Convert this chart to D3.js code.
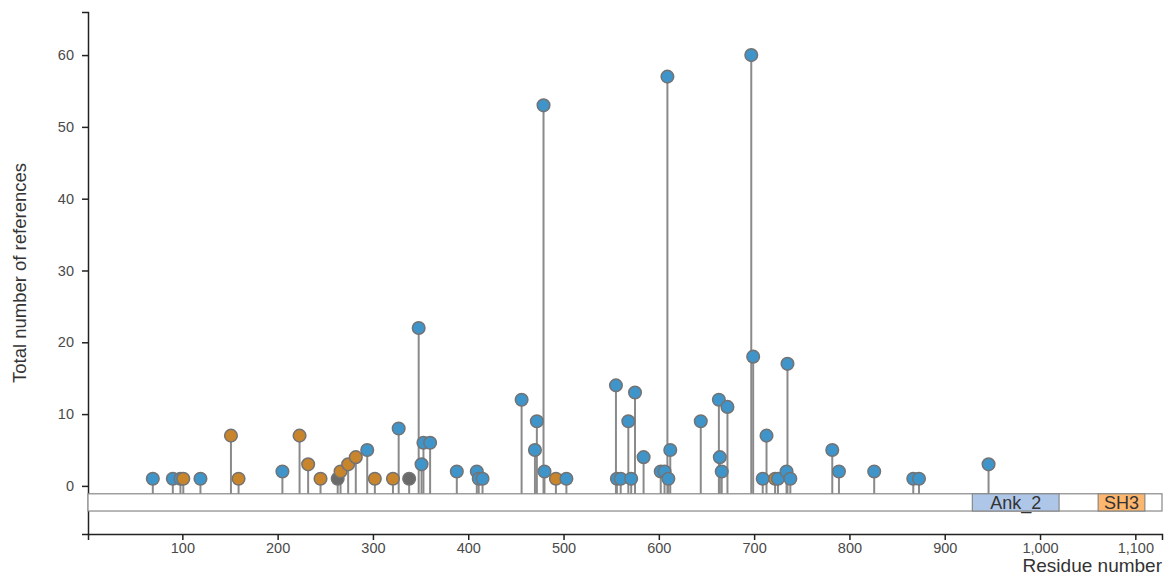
<!DOCTYPE html>
<html>
<head>
<meta charset="utf-8">
<script src="https://cdn.jsdelivr.net/npm/d3@7"></script>
<style>
  body { margin: 0; background: #fff; }
  svg { font-family: "Liberation Sans", Arial, sans-serif; }
  .tick text { fill: #4a4a4a; font-size: 14.5px; }
  .domain-label { font-size: 18px; fill: #333; }
</style>
</head>
<body>
<svg width="1168" height="577"></svg>
<script>
// lollipops: residue position, total references, mutation class
const positions = [
  69, 90, 98, 101, 119, 151, 159, 205, 223, 232, 245, 263, 266, 274, 282,
  294, 302, 321, 327, 338, 348, 351, 353, 360, 388, 409, 411, 415,
  456, 470, 472, 479, 480, 492, 503, 555, 556, 560, 568, 571, 575, 584,
  602, 606, 609, 610, 612, 644, 663, 664, 666, 672, 697, 699, 709, 713,
  722, 725, 734, 735, 738, 782, 789, 826, 867, 873, 946
];
const counts = [
  1, 1, 1, 1, 1, 7, 1, 2, 7, 3, 1, 1, 2, 3, 4,
  5, 1, 1, 8, 1, 22, 3, 6, 6, 2, 2, 1, 1,
  12, 5, 9, 53, 2, 1, 1, 14, 1, 1, 9, 1, 13, 4,
  2, 2, 57, 1, 5, 9, 12, 4, 2, 11, 60, 18, 1, 7,
  1, 1, 2, 17, 1, 5, 2, 2, 1, 1, 3
];
const classes = [
  'm', 'm', 'm', 't', 'm', 't', 't', 'm', 't', 't', 't', 'o', 't', 't', 't',
  'm', 't', 't', 'm', 'o', 'm', 'm', 'm', 'm', 'm', 'm', 'm', 'm',
  'm', 'm', 'm', 'm', 'm', 't', 'm', 'm', 'm', 'm', 'm', 'm', 'm', 'm',
  'm', 'm', 'm', 'm', 'm', 'm', 'm', 'm', 'm', 'm', 'm', 'm', 'm', 'm',
  't', 'm', 'm', 'm', 'm', 'm', 'm', 'm', 'm', 'm', 'm'
];
const classColors = { m: '#3f94c9', t: '#c8852c', o: '#6a6a6a' };

// protein domains
const proteinLength = 1128;
const domainNames = ['Ank_2', 'SH3'];
const domainStart = [929, 1061];
const domainEnd = [1020, 1110];
const domainColors = ['#aec7e8', '#fdb66e'];

const yTicks = [0, 10, 20, 30, 40, 50, 60];
const xTicks = [100, 200, 300, 400, 500, 600, 700, 800, 900, 1000, 1100];

const svg = d3.select('svg');

const x = d3.scaleLinear().domain([1, proteinLength]).range([88, 1162]);
const y = d3.scaleLinear().domain([-6.7, 66]).range([534, 12]);

const bandTop = y(-1.1), bandBottom = y(-3.5);

// y axis
svg.append('g')
  .attr('transform', `translate(${x(1)},0)`)
  .call(d3.axisLeft(y).tickValues(yTicks).tickSize(6).tickPadding(8))
  .call(g => g.select('.domain').attr('stroke', '#222').attr('stroke-width', 1.5))
  .call(g => g.selectAll('.tick line').attr('stroke', '#222').attr('stroke-width', 1.5));

// x axis
svg.append('g')
  .attr('transform', `translate(0,${y(-6.7)})`)
  .call(d3.axisBottom(x).tickValues(xTicks).tickFormat(d3.format(',')).tickSize(6).tickPadding(3))
  .call(g => g.select('.domain').attr('stroke', '#222').attr('stroke-width', 1.5))
  .call(g => g.selectAll('.tick line').attr('stroke', '#222').attr('stroke-width', 1.5));

// axis titles
svg.append('text')
  .attr('transform', `translate(26,${(y(66) + y(-6.7)) / 2}) rotate(-90)`)
  .attr('text-anchor', 'middle')
  .attr('font-size', 18.5)
  .attr('fill', '#333')
  .text('Total number of references');

svg.append('text')
  .attr('x', 1162)
  .attr('y', 572)
  .attr('text-anchor', 'end')
  .attr('font-size', 19)
  .attr('fill', '#333')
  .text('Residue number');

// protein backbone
svg.append('rect')
  .attr('x', x(1))
  .attr('y', bandTop)
  .attr('width', x(proteinLength) - x(1))
  .attr('height', bandBottom - bandTop)
  .attr('fill', '#fff')
  .attr('stroke', '#888')
  .attr('stroke-width', 1.2);

const domains = domainNames.map((name, i) => ({
  name, start: domainStart[i], end: domainEnd[i], color: domainColors[i]
}));

svg.selectAll('.pdomain')
  .data(domains)
  .join('rect')
  .attr('class', 'pdomain')
  .attr('x', d => x(d.start))
  .attr('y', bandTop)
  .attr('width', d => x(d.end) - x(d.start))
  .attr('height', bandBottom - bandTop)
  .attr('fill', d => d.color)
  .attr('stroke', '#888')
  .attr('stroke-width', 1.2);

svg.selectAll('.domain-label')
  .data(domains)
  .join('text')
  .attr('class', 'domain-label')
  .attr('x', d => (x(d.start) + x(d.end)) / 2)
  .attr('y', (bandTop + bandBottom) / 2)
  .attr('dy', '0.36em')
  .attr('text-anchor', 'middle')
  .text(d => d.name);

// lollipops
const muts = positions.map((p, i) => ({ pos: p, count: counts[i], cls: classes[i] }));

svg.append('g')
  .selectAll('line')
  .data(muts)
  .join('line')
  .attr('x1', d => x(d.pos))
  .attr('x2', d => x(d.pos))
  .attr('y1', bandTop)
  .attr('y2', d => y(d.count))
  .attr('stroke', '#8a8a8a')
  .attr('stroke-width', 2);

svg.append('g')
  .selectAll('circle')
  .data(muts)
  .join('circle')
  .attr('cx', d => x(d.pos))
  .attr('cy', d => y(d.count))
  .attr('r', 6.3)
  .attr('fill', d => classColors[d.cls])
  .attr('stroke', '#737373')
  .attr('stroke-width', 1.5);
</script>
</body>
</html>
